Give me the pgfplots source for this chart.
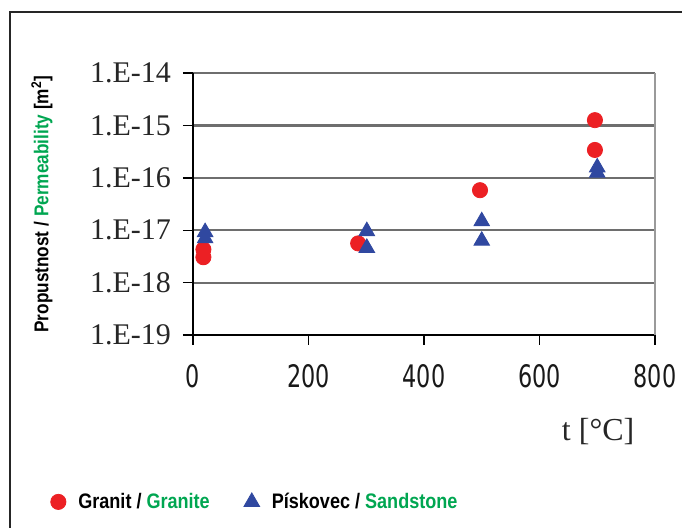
\documentclass[border=0pt]{standalone}
\usepackage{fontspec}
\setmainfont{Liberation Serif}
\newfontfamily\sansb[FakeStretch=0.86]{Liberation Sans}
\newfontfamily\xfont[FakeStretch=0.72]{DejaVu Sans}
\usepackage{pgfplots}
\pgfplotsset{compat=1.18}
\definecolor{mred}{RGB}{236,32,36}
\definecolor{mblue}{RGB}{48,72,160}
\definecolor{lgreen}{RGB}{0,166,81}
\definecolor{gridc}{RGB}{110,110,110}
\begin{document}
\begin{tikzpicture}
\useasboundingbox (-96.5pt,-96.5pt) rectangle (244.5pt,167.5pt);
\draw[line width=0.7pt, black!85] (-91.5pt,-97pt) -- (-91.5pt,161.5pt) -- (245pt,161.5pt);
\begin{axis}[
 at={(0,0)}, anchor=south west,
 scale only axis, width=231pt, height=131pt,
 ymode=log, xmin=0, xmax=800, ymin=1e-19, ymax=1e-14,
 axis lines=left, axis line style={-, line width=0.8pt, black},
 xtick={0,200,400,600,800}, xticklabels={0,200,400,600,800},
 ytick={1e-19,1e-18,1e-17,1e-16,1e-15,1e-14},
 yticklabels={1.E-19,1.E-18,1.E-17,1.E-16,1.E-15,1.E-14},
 yminorticks=false, xminorticks=false,
 tick align=outside, major tick length=5pt,
 tick style={black, line width=0.7pt},
 ymajorgrids, major grid style={gridc, line width=1.1pt},
 extra x ticks={800}, extra x tick labels={},
 extra x tick style={grid=major, tick style={draw=none}, major grid style={gridc!70, line width=0.8pt}},
 xticklabel style={font=\xfont\fontsize{15.5}{16}\selectfont, text=black!90, yshift=-6pt},
 yticklabel style={font=\fontsize{15}{16}\selectfont, text=black!85, xshift=-2.5pt},
 xlabel={t [°C]},
 xlabel style={at={(axis description cs:0.877,-0.370)}, anchor=center, font=\fontsize{16}{16}\selectfont, text=black!85},
 ylabel={Propustnost / \textcolor{lgreen}{Permeability} [m\textsuperscript{2}]},
 ylabel style={at={(axis description cs:-0.327,0.5)}, anchor=center, font=\sansb\bfseries\fontsize{10}{12}\selectfont},
 legend columns=2,
 legend image code/.code={\path[draw=none,fill=none] (-8pt,-0.1pt) rectangle (8pt,0.1pt); \draw[#1] plot coordinates {(0pt,0pt)};},
 legend style={at={(axis description cs:-0.327,-0.637)}, anchor=west, draw=none, fill=none, inner sep=0pt,
   font=\sansb\bfseries\fontsize{10.5}{12}\selectfont,
   /tikz/every even column/.append style={column sep=11pt}},
]
\addplot[only marks, mark=*, mark size=3.8pt, mark options={draw=mred, fill=mred}] coordinates {
 (18,4.3e-18) (18,3.05e-18) (286,5.6e-18) (497,5.8e-17) (696,1.26e-15) (696,3.4e-16)};
\addlegendentry{Granit / \textcolor{lgreen}{Granite}}
\addplot[only marks, mark=triangle*, mark size=4.5pt, mark options={draw=mblue, fill=mblue}] coordinates {
 (21,9.2e-18) (21,7e-18) (301,9.6e-18) (301,4.6e-18) (500,1.48e-17) (500,6.3e-18) (700,1.58e-16) (700,1.25e-16)};
\addlegendentry{Pískovec / \textcolor{lgreen}{Sandstone}}
\end{axis}
\end{tikzpicture}
\end{document}
